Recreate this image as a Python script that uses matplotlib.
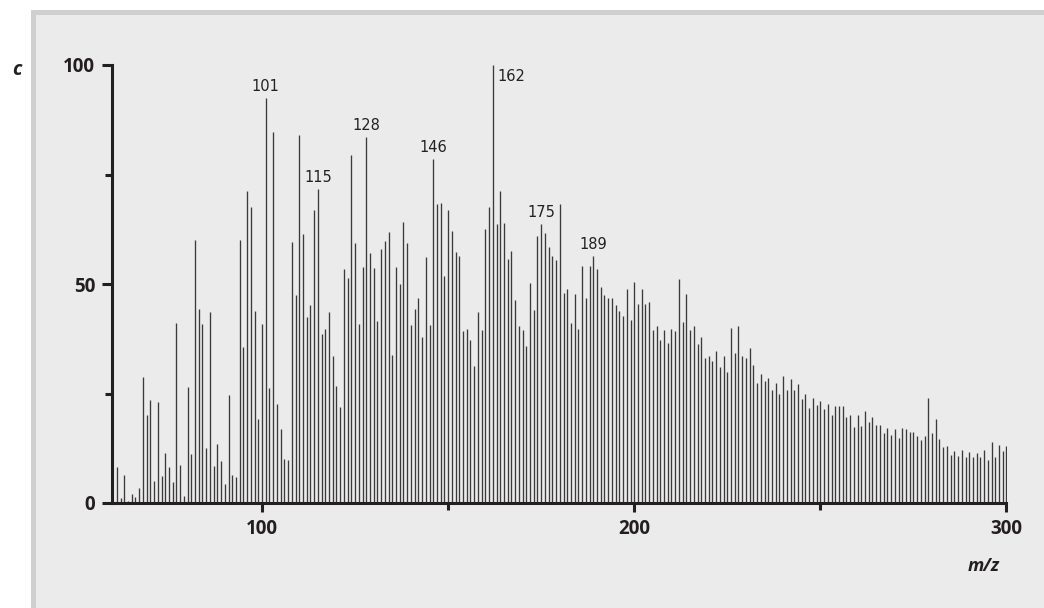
import matplotlib.pyplot as plt
from matplotlib.patches import Rectangle
from matplotlib.ticker import FixedLocator
import numpy as np

plt.rcParams['font.family'] = ['Open Sans', 'DejaVu Sans']

# 质谱数据：m/z 61–300，相对丰度 (%)
mz = np.arange(61, 301)
intensity = [
    8.2, 1.1, 6.3, 0.4, 2.0, 1.4, 3.4, 28.7, 20.0, 23.6,          # 61-70
    5.1, 23.0, 6.1, 11.4, 8.2, 4.8, 41.1, 8.7, 1.5, 26.5,         # 71-80
    11.2, 60.1, 44.3, 40.8, 12.5, 43.5, 8.4, 13.4, 9.6, 4.3,      # 81-90
    24.7, 6.5, 5.9, 60.1, 35.7, 71.3, 67.6, 43.9, 19.2, 40.8,     # 91-100
    92.4, 26.2, 84.7, 22.5, 16.8, 10.1, 9.8, 59.5, 47.5, 84.0,    # 101-110
    61.5, 42.4, 45.2, 66.8, 71.7, 38.6, 39.7, 43.5, 33.5, 26.8,   # 111-120
    21.9, 53.5, 51.3, 79.5, 59.3, 40.8, 53.9, 83.5, 57.0, 53.6,   # 121-130
    41.5, 58.0, 59.8, 61.9, 33.9, 53.8, 50.0, 64.1, 59.3, 40.7,   # 131-140
    44.2, 46.8, 37.9, 56.2, 40.7, 78.6, 68.2, 68.6, 51.9, 67.0,   # 141-150
    62.0, 57.4, 56.3, 39.2, 39.7, 37.2, 31.3, 43.7, 39.6, 62.5,   # 151-160
    67.5, 100.0, 63.7, 71.3, 63.9, 55.7, 57.6, 46.3, 40.3, 39.6,  # 161-170
    35.9, 50.3, 44.0, 61.0, 63.7, 61.7, 58.5, 56.4, 55.4, 68.2,   # 171-180
    47.9, 48.8, 41.2, 47.8, 39.8, 54.0, 46.8, 54.0, 56.4, 53.5,   # 181-190
    49.4, 47.4, 46.9, 46.8, 45.3, 43.9, 42.7, 48.8, 41.7, 50.5,   # 191-200
    45.5, 48.8, 45.5, 45.8, 39.5, 40.3, 37.2, 39.5, 36.5, 39.8,   # 201-210
    39.3, 51.2, 41.3, 47.8, 39.6, 40.3, 36.4, 37.9, 33.1, 33.5,   # 211-220
    32.5, 34.8, 31.1, 33.6, 30.0, 39.9, 34.2, 40.4, 33.6, 33.2,   # 221-230
    35.4, 31.4, 27.5, 29.5, 27.8, 28.6, 25.9, 27.3, 24.9, 29.0,   # 231-240
    25.9, 28.4, 25.8, 27.2, 23.7, 24.9, 21.7, 24.0, 22.4, 23.3,   # 241-250
    21.5, 22.7, 20.0, 22.2, 22.2, 22.1, 19.6, 20.0, 17.4, 20.0,   # 251-260
    17.6, 20.9, 18.4, 19.6, 17.7, 17.7, 16.0, 17.1, 15.6, 16.8,   # 261-270
    14.8, 17.2, 17.0, 16.1, 16.1, 15.4, 14.3, 15.4, 23.9, 16.0,   # 271-280
    19.2, 14.6, 12.7, 13.1, 11.0, 11.9, 10.8, 12.1, 10.6, 11.6,   # 281-290
    10.5, 11.4, 10.5, 12.1, 9.9, 13.9, 10.6, 13.3, 11.9, 13.1,    # 291-300
]
intensity = np.array(intensity)

# 标注的峰
peak_labels = [101, 115, 128, 146, 162, 175, 189]

ink = '#231f20'

fig = plt.figure(figsize=(10.44, 6.08), dpi=100)
fig.patch.set_facecolor('white')

# 灰色底板（上、左带浅灰边框）
fig.add_artist(Rectangle((31 / 1044, 0), 1, (608 - 10) / 608,
                         transform=fig.transFigure, facecolor='#cfcfcf',
                         edgecolor='none', zorder=-2))
fig.add_artist(Rectangle((36 / 1044, 0), 1, (608 - 15) / 608,
                         transform=fig.transFigure, facecolor='#ebebeb',
                         edgecolor='none', zorder=-1))

ax = fig.add_axes([112 / 1044, 105 / 608, 894.5 / 1044, 438 / 608])
ax.set_facecolor('none')

ax.vlines(mz, 0, intensity, colors='#3a3a3a', linewidth=0.95)

ax.set_xlim(59.7, 300)
ax.set_ylim(0, 100)

for side in ['top', 'right']:
    ax.spines[side].set_visible(False)
for side in ['left', 'bottom']:
    ax.spines[side].set_linewidth(2.2)
    ax.spines[side].set_color(ink)

ax.xaxis.set_major_locator(FixedLocator([100, 200, 300]))
ax.xaxis.set_minor_locator(FixedLocator([150, 250]))
ax.yaxis.set_major_locator(FixedLocator([0, 50, 100]))
ax.yaxis.set_minor_locator(FixedLocator([25, 75]))

ax.tick_params(axis='both', which='both', direction='out', color=ink, width=2.2)
ax.tick_params(axis='y', which='major', length=7.2, pad=5)
ax.tick_params(axis='y', which='minor', length=4.8)
ax.tick_params(axis='x', which='major', length=6.5, pad=5)
ax.tick_params(axis='x', which='minor', length=5)

for lab in ax.get_xticklabels() + ax.get_yticklabels():
    lab.set_fontweight('bold')
    lab.set_fontsize(13.5)
    lab.set_color(ink)

# 峰值标注
for m in peak_labels:
    h = intensity[mz == m][0]
    if h >= 99:
        ax.annotate(str(m), xy=(m, h), xytext=(3, -8), textcoords='offset points',
                    ha='left', va='center', fontsize=10.5, color='#222222',
                    family=['Liberation Sans Narrow', 'DejaVu Sans'])
    else:
        ax.annotate(str(m), xy=(m, h), xytext=(0, 3), textcoords='offset points',
                    ha='center', va='bottom', fontsize=10.5, color='#222222',
                    family=['Liberation Sans Narrow', 'DejaVu Sans'])

# 轴标题
fig.text(17 / 1044, 1 - 70 / 608, 'c', fontsize=14, fontweight='bold',
         style='italic', ha='center', va='center', color=ink)
fig.text(984 / 1044, 1 - 566 / 608, 'm/z', fontsize=13, fontweight='bold',
         style='italic', ha='center', va='center', color=ink)

fig.savefig('out.png', dpi=100, facecolor='white')
